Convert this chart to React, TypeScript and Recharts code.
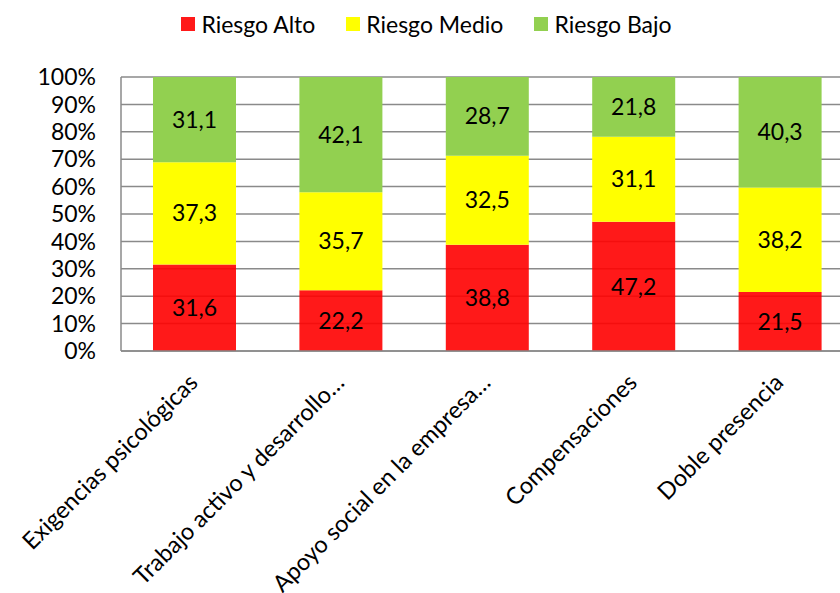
import { BarChart, Bar, XAxis, YAxis, CartesianGrid, LabelList } from 'recharts'

const FONT = 'Lato, "Open Sans", sans-serif'
const FONT_SIZE = 23
const CAT_FONT_SIZE = 23.5
const GRID = '#8a8a8a'

const categories = [
  'Exigencias psicológicas',
  'Trabajo activo y desarrollo…',
  'Apoyo social en la empresa…',
  'Compensaciones',
  'Doble presencia'
]
const riesgoAlto = [31.6, 22.2, 38.8, 47.2, 21.5]
const riesgoMedio = [37.3, 35.7, 32.5, 31.1, 38.2]
const riesgoBajo = [31.1, 42.1, 28.7, 21.8, 40.3]
const yTicks = [0, 0.1, 0.2, 0.3, 0.4, 0.5, 0.6, 0.7, 0.8, 0.9, 1]

const series = [
  { key: 'alto', name: 'Riesgo Alto', color: '#FF0000', opacity: 0.9 },
  { key: 'medio', name: 'Riesgo Medio', color: '#FFFF00', opacity: 1 },
  { key: 'bajo', name: 'Riesgo Bajo', color: '#92D050', opacity: 1 }
]

const data = categories.map((name, i) => ({
  name,
  alto: riesgoAlto[i],
  medio: riesgoMedio[i],
  bajo: riesgoBajo[i]
}))

function CategoryTick({ x, y, payload }: any) {
  const tx = x + 5
  const ty = y + 33
  return (
    <text
      x={tx}
      y={ty}
      transform={`rotate(-45, ${tx}, ${ty})`}
      textAnchor="end"
      fontFamily={FONT}
      fontSize={CAT_FONT_SIZE}
      fill="#000"
    >
      {payload.value}
    </text>
  )
}

export default function App() {
  return (
    <div style={{ position: 'fixed', top: 0, left: 0, width: 840, height: 593, overflow: 'hidden', background: '#fff' }}>
      <BarChart
        width={853}
        height={593}
        data={data}
        stackOffset="expand"
        margin={{ top: 77, right: 0, bottom: 0, left: 0 }}
      >
        <CartesianGrid vertical={false} stroke={GRID} strokeWidth={1.5} />
        <XAxis
          dataKey="name"
          height={242}
          interval={0}
          tickLine={false}
          tickSize={0}
          tickMargin={0}
          axisLine={{ stroke: GRID, strokeWidth: 1.5 }}
          tick={<CategoryTick />}
        />
        <YAxis
          width={121}
          domain={[0, 1]}
          ticks={yTicks}
          interval={0}
          tickLine={false}
          tickSize={0}
          tickMargin={25}
          axisLine={{ stroke: GRID, strokeWidth: 1.5 }}
          tick={{ fill: '#000', fontSize: FONT_SIZE, fontFamily: FONT }}
          tickFormatter={(v: number) => `${Math.round(v * 100)}%`}
        />
        {series.map((s) => (
          <Bar
            key={s.key}
            dataKey={s.key}
            name={s.name}
            stackId="a"
            fill={s.color}
            fillOpacity={s.opacity}
            barSize={83}
            isAnimationActive={false}
          >
            <LabelList
              dataKey={s.key}
              position="center"
              fill="#000"
              stroke="none"
              fontSize={FONT_SIZE}
              fontFamily={FONT}
              formatter={(v: any) => Number(v).toFixed(1).replace('.', ',')}
            />
          </Bar>
        ))}
      </BarChart>
      <div
        style={{
          position: 'absolute',
          top: 10,
          left: 0,
          width: 853,
          display: 'flex',
          justifyContent: 'center',
          alignItems: 'center',
          gap: 31,
          fontFamily: FONT,
          fontSize: FONT_SIZE,
          lineHeight: '28px',
          color: '#000'
        }}
      >
        {series.map((s) => (
          <div key={s.key} style={{ display: 'flex', alignItems: 'center', gap: 6 }}>
            <span style={{ width: 14, height: 14, background: s.color, opacity: s.opacity, display: 'inline-block' }} />
            <span>{s.name}</span>
          </div>
        ))}
      </div>
    </div>
  )
}
